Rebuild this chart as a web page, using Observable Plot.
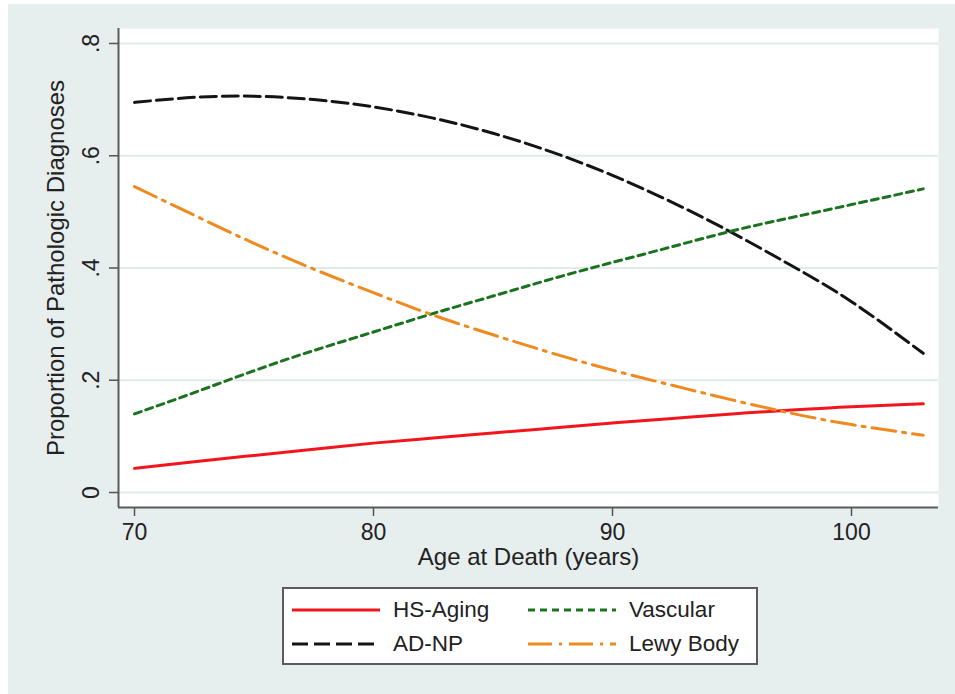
<!DOCTYPE html>
<html>
<head>
<meta charset="utf-8">
<script src="https://cdn.jsdelivr.net/npm/d3@7"></script>
<script src="https://cdn.jsdelivr.net/npm/@observablehq/plot@0.6"></script>
<style>
  html, body { margin: 0; padding: 0; background: #ffffff; }
  body { font-family: "Liberation Sans", Arial, Helvetica, sans-serif; color: #222; }
  #bg { position: absolute; left: 8px; top: 4px; width: 947px; height: 690px; background: #e7eeee; }
  #chart { position: absolute; left: 0; top: 0; }
  #legend { position: absolute; left: 282px; top: 587px; width: 472px; height: 74px; background: #fff; border: 2px solid #5c5c5c; }
  .item { position: absolute; height: 30px; }
  .item svg { position: absolute; left: 0; top: 0; }
  .item span { position: absolute; top: 0; line-height: 30px; font-size: 22.5px; white-space: nowrap; color: #222; }
</style>
</head>
<body>
<div id="bg"></div>
<div id="chart"></div>
<div id="legend"></div>
<script>
// ---- data ----
const ages = [70, 72.5, 75, 77.5, 80, 82.5, 85, 87.5, 90, 92.5, 95, 97.5, 100, 103];
const hsAging  = [0.043, 0.055, 0.066, 0.077, 0.088, 0.097, 0.106, 0.115, 0.124, 0.132, 0.140, 0.147, 0.153, 0.158];
const adNP     = [0.695, 0.704, 0.706, 0.700, 0.687, 0.667, 0.640, 0.606, 0.565, 0.517, 0.463, 0.404, 0.340, 0.248];
const vascular = [0.140, 0.178, 0.217, 0.253, 0.286, 0.319, 0.350, 0.381, 0.410, 0.438, 0.466, 0.490, 0.513, 0.541];
const lewyBody = [0.545, 0.494, 0.444, 0.398, 0.356, 0.316, 0.281, 0.248, 0.218, 0.191, 0.165, 0.141, 0.121, 0.102];

const seriesNames = ["HS-Aging", "AD-NP", "Vascular", "Lewy Body"];
const xTicks = [70, 80, 90, 100];
const xTickLabels = ["70", "80", "90", "100"];
const yTicks = [0, 0.2, 0.4, 0.6, 0.8];
const yTickLabels = ["0", ".2", ".4", ".6", ".8"];
const xTitle = "Age at Death (years)";
const yTitle = "Proportion of Pathologic Diagnoses";

// ---- styles ----
const styles = {
  "HS-Aging":  {stroke: "#f2161c", dash: null},
  "AD-NP":     {stroke: "#141414", dash: "16,6"},
  "Vascular":  {stroke: "#1b7320", dash: "7,5"},
  "Lewy Body": {stroke: "#ee8a1e", dash: "24,7,3,7"}
};
const valuesBy = {"HS-Aging": hsAging, "AD-NP": adNP, "Vascular": vascular, "Lewy Body": lewyBody};

const W = 955, H = 575;
const xDomain = [69.33, 103.64];
const yDomain = [-0.0267, 0.8267];
const font = '"Liberation Sans", Arial, Helvetica, sans-serif';

const lineMarks = seriesNames.map(name => {
  const rows = ages.map((a, i) => ({age: a, v: valuesBy[name][i]}));
  return Plot.line(rows, {
    x: "age", y: "v",
    stroke: styles[name].stroke,
    strokeWidth: 3,
    strokeDasharray: styles[name].dash,
    curve: "natural"
  });
});

const chart = Plot.plot({
  width: W,
  height: H,
  marginLeft: 118,
  marginRight: 17,
  marginTop: 28,
  marginBottom: H - 507,
  style: {background: "transparent", fontFamily: font, fontSize: "23px", color: "#222", overflow: "visible"},
  x: {domain: xDomain},
  y: {domain: yDomain},
  marks: [
    Plot.frame({fill: "white", stroke: null}),
    Plot.gridY(yTicks, {stroke: "#e2eaea", strokeOpacity: 1, strokeWidth: 2}),
    Plot.axisY(yTicks, {
      tickFormat: d => yTickLabels[yTicks.indexOf(d)],
      tickRotate: -90, tickSize: 9, tickPadding: 11,
      stroke: "#555", strokeWidth: 1.5, label: null, fontSize: 23
    }),
    Plot.axisX(xTicks, {
      tickFormat: d => xTickLabels[xTicks.indexOf(d)],
      tickSize: 9, tickPadding: 7,
      stroke: "#555", strokeWidth: 1.5, label: null, fontSize: 23
    }),
    Plot.ruleX([xDomain[0]], {stroke: "#5a5a5a", strokeWidth: 2}),
    Plot.ruleY([yDomain[0]], {stroke: "#5a5a5a", strokeWidth: 2}),
    ...lineMarks,
    Plot.text([xTitle], {text: d => d, frameAnchor: "bottom", lineAnchor: "top", dy: 40, fontSize: 24, fill: "#222"}),
    Plot.text([yTitle], {text: d => d, frameAnchor: "left", textAnchor: "middle", rotate: -90, lineAnchor: "bottom", dx: -55, fontSize: 24, fill: "#222"})
  ]
});
document.getElementById("chart").appendChild(chart);

// ---- legend ----
const legendPos = {
  "HS-Aging":  {left: 8,   top: 6},
  "Vascular":  {left: 244, top: 6},
  "AD-NP":     {left: 8,   top: 40},
  "Lewy Body": {left: 244, top: 40}
};
const legend = d3.select("#legend");
seriesNames.forEach(name => {
  const p = legendPos[name];
  const item = legend.append("div").attr("class", "item")
    .style("left", p.left + "px").style("top", p.top + "px").style("width", "220px");
  const svg = item.append("svg").attr("width", 90).attr("height", 30);
  svg.append("line").attr("x1", 0).attr("x2", 88).attr("y1", 15).attr("y2", 15)
    .attr("stroke", styles[name].stroke).attr("stroke-width", 3)
    .attr("stroke-dasharray", styles[name].dash);
  item.append("span").style("left", "101px").text(name);
});
</script>
</body>
</html>
